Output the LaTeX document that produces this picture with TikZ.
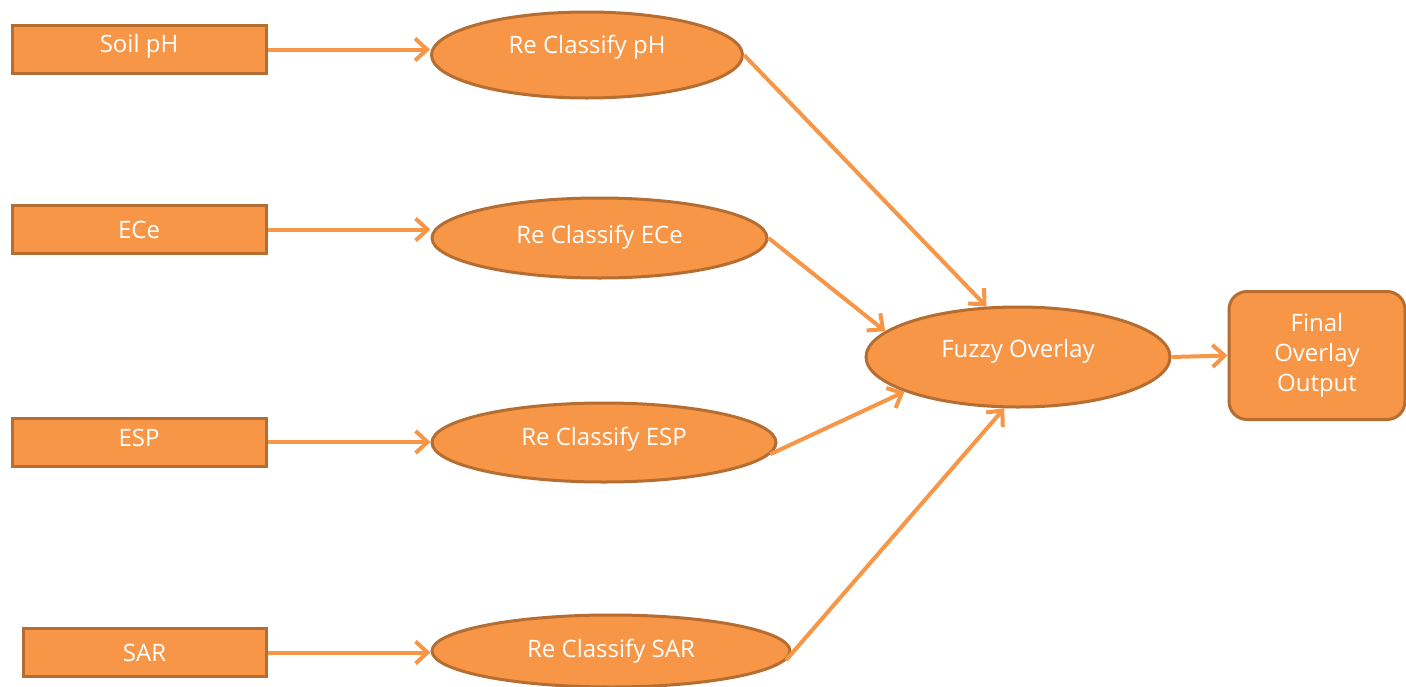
\documentclass[tikz,border=0pt]{standalone}
\usepackage{fontspec}
\setmainfont{Open Sans}
\usetikzlibrary{shapes.geometric,arrows.meta}
\definecolor{fillor}{HTML}{F79646}
\definecolor{edgeor}{HTML}{B66D31}
\begin{document}
\begin{tikzpicture}[x=1pt,y=-1pt,
  inbox/.style={draw=edgeor,fill=fillor,line width=3pt,minimum width=254pt,minimum height=48pt,inner sep=0pt,text=white,font=\fontsize{24}{28}\selectfont},
  ovalbox/.style={ellipse,draw=edgeor,fill=fillor,line width=3pt,inner sep=0pt,text=white,font=\fontsize{24}{28}\selectfont,text height=18pt},
  raise/.style={text depth=6pt+2*#1},
  outbox/.style={draw=edgeor,fill=fillor,line width=3pt,rounded corners=18pt,inner sep=0pt,text=white,align=center,font=\fontsize{24}{30}\selectfont},
  conn/.style={draw=fillor,line width=4pt,-{Straight Barb[length=12pt,width=22pt,line width=4pt]}}]
\useasboundingbox (0,0) rectangle (1406,686);
\node[inbox,text height=18pt,text depth=12pt] (ph) at (139,49.5) {Soil pH};
\node[inbox] (ece) at (139,229.5) {ECe};
\node[inbox,text height=18pt,text depth=10pt] (esp) at (139,442) {ESP};
\node[inbox,minimum width=243pt] (sar) at (144.5,652.5) {SAR};
\node[ovalbox,raise=8pt,minimum width=311pt,minimum height=86pt] (rph) at (587,55) {Re Classify pH};
\node[ovalbox,raise=1pt,minimum width=335pt,minimum height=80pt] (rece) at (599.5,238) {Re Classify ECe};
\node[ovalbox,raise=3pt,minimum width=344pt,minimum height=79pt] (resp) at (604,442.5) {Re Classify ESP};
\node[ovalbox,raise=0pt,minimum width=358pt,minimum height=72pt] (rsar) at (611,651) {Re Classify SAR};
\node[ovalbox,raise=6pt,minimum width=304pt,minimum height=100pt] (fuzzy) at (1018,357) {Fuzzy Overlay};
\node[outbox,minimum width=176pt,minimum height=128pt] (final) at (1317,355.5) {Final\\Overlay\\Output};
\draw[conn] (ph.east) -- (ph.east -| rph.west);
\draw[conn] (ece.east) -- (ece.east -| rece.west);
\draw[conn] (esp.east) -- (esp.east -| resp.west);
\draw[conn] (sar.east) -- (sar.east -| rsar.west);
\draw[conn] (rph.east) -- (fuzzy.122);
\draw[conn] (rece.east) -- (fuzzy.169);
\draw[conn] (resp.-4) -- (fuzzy.197);
\draw[conn] (rsar.-3) -- (fuzzy.255);
\draw[conn] (fuzzy.east) -- (final.west);
\end{tikzpicture}
\end{document}
